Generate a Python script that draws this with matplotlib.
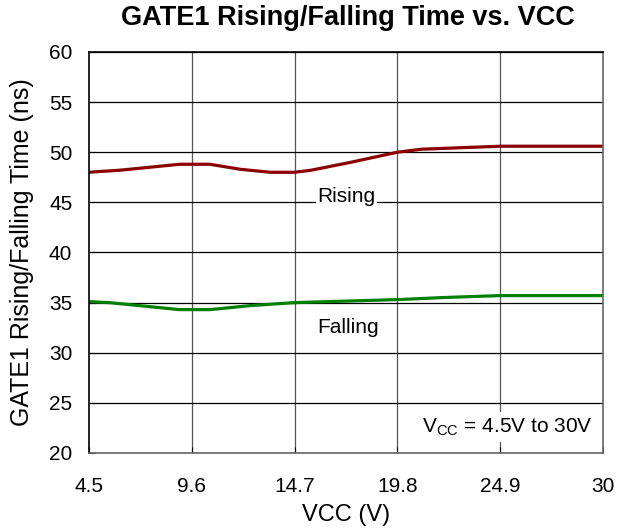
# -*- coding: utf-8 -*-
"""
GATE1 rising/falling time vs VCC
"""

import matplotlib
matplotlib.use("Agg")
import matplotlib.pyplot as plt

matplotlib.rcParams['font.family'] = 'Liberation Sans'
matplotlib.rcParams['mathtext.fontset'] = 'custom'
matplotlib.rcParams['mathtext.rm'] = 'Liberation Sans'

# data
vcc_rise = [4.5, 5.2, 6.0, 7.5, 9.0, 10.5, 12.0, 13.5, 14.7, 15.5, 17.5, 19.8, 21.0, 24.9, 30.0]
t_rise = [48.0, 48.1, 48.2, 48.5, 48.8, 48.8, 48.3, 48.0, 48.0, 48.2, 49.0, 50.0, 50.3, 50.6, 50.6]

vcc_fall = [4.5, 5.5, 7.0, 9.0, 10.5, 12.5, 14.7, 19.8, 22.0, 24.9, 30.0]
t_fall = [35.1, 35.0, 34.7, 34.3, 34.3, 34.7, 35.0, 35.3, 35.5, 35.7, 35.7]

xticks = [4.5, 9.6, 14.7, 19.8, 24.9, 30]
xticklabels = ["4.5", "9.6", "14.7", "19.8", "24.9", "30"]
yticks = range(20, 61, 5)

fig = plt.figure(figsize=(6.17, 5.32), dpi=100)
ax = fig.add_axes([0.1442, 0.1485, 0.8328, 0.7538])

# grid
for x in xticks[1:-1]:
    ax.axvline(x, color="#555555", lw=0.9, zorder=1)
for y in yticks:
    ax.axhline(y, color="black", lw=0.9, zorder=1)

ax.plot(vcc_rise, t_rise, color="#8B0000", lw=2.3, zorder=3)
ax.plot(vcc_fall, t_fall, color="#008000", lw=2.3, zorder=3)

box = dict(facecolor="white", edgecolor="none", pad=1)
ax.text(15.85, 45.6, "Rising", fontsize=15, va="center", ha="left", bbox=box, zorder=2)
ax.text(15.85, 32.5, "Falling", fontsize=15, va="center", ha="left", bbox=box, zorder=2)
ax.text(29.5, 22.6, r"V$_{\mathrm{CC}}$ = 4.5V to 30V", fontsize=15, va="center",
        ha="right", bbox=dict(facecolor="white", edgecolor="none", pad=3), zorder=2)

ax.set_xlim(4.5, 30)
ax.set_ylim(20, 60)
ax.set_xticks(xticks)
ax.set_xticklabels(xticklabels)
ax.set_yticks(list(yticks))
ax.tick_params(direction="in", length=4, labelsize=15)
ax.tick_params(axis="x", pad=17)
ax.tick_params(axis="y", pad=12)

ax.spines['top'].set_color("black")
ax.spines['left'].set_color("black")
ax.spines['bottom'].set_color("#666666")
ax.spines['right'].set_color("#666666")
for s in ax.spines.values():
    s.set_linewidth(1.2)
    s.set_zorder(4)

fig.text(0.561, 0.032, "VCC (V)", fontsize=17, ha="center", va="center")
fig.text(0.035, 0.526, "GATE1 Rising/Falling Time (ns)", fontsize=18,
         ha="center", va="center", rotation=90)
fig.text(0.564, 0.966, "GATE1 Rising/Falling Time vs. VCC", fontsize=19.5,
         fontweight="bold", ha="center", va="center")

fig.savefig("out.png", dpi=100)
